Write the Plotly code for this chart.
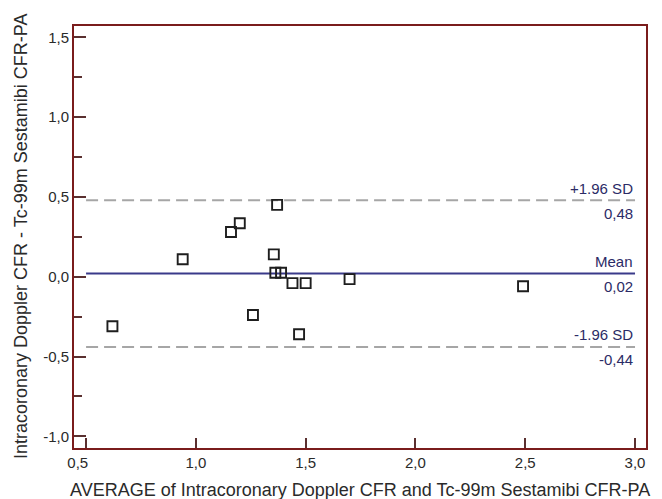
import plotly.graph_objects as go

# Data
avg_x = [0.62, 0.94, 1.16, 1.20, 1.26, 1.355, 1.362, 1.37, 1.388, 1.44, 1.47, 1.50, 1.70, 2.49]
diff_y = [-0.31, 0.11, 0.28, 0.335, -0.24, 0.14, 0.025, 0.45, 0.025, -0.04, -0.36, -0.04, -0.015, -0.06]

mean_diff = 0.02
upper_loa = 0.48
lower_loa = -0.44
line_x = [0.5, 3.0]

y_tickvals = [-1.0, -0.5, 0.0, 0.5, 1.0, 1.5]
y_ticktext = ["-1,0", "-0,5", "0,0", "0,5", "1,0", "1,5"]
x_tickvals = [0.5, 1.0, 1.5, 2.0, 2.5, 3.0]
x_ticktext = ["0,5\u2007\u2007", "1,0", "1,5", "2,0", "2,5", "3,0"]

FONT = "Liberation Sans, Arial, sans-serif"
FRAME = "#7a1c1c"
TICK = "#5a3030"
NAVY = "#3a3a8a"
LABEL = "#2b2b66"
GRAY = "#a6a6a6"
TXT = "#2a2a2a"

fig = go.Figure()

fig.add_trace(go.Scatter(x=line_x, y=[upper_loa, upper_loa], mode="lines",
                         line=dict(color=GRAY, width=2, dash="12px,6px"), hoverinfo="skip"))
fig.add_trace(go.Scatter(x=line_x, y=[lower_loa, lower_loa], mode="lines",
                         line=dict(color=GRAY, width=2, dash="12px,6px"), hoverinfo="skip"))
fig.add_trace(go.Scatter(x=line_x, y=[mean_diff, mean_diff], mode="lines",
                         line=dict(color=NAVY, width=2), hoverinfo="skip"))
fig.add_trace(go.Scatter(x=avg_x, y=diff_y, mode="markers",
                         marker=dict(symbol="square-open", size=10, color="#1e1e1e",
                                     line=dict(width=1.9, color="#1e1e1e"))))

labels = [("+1.96 SD", upper_loa, 12), ("0,48", upper_loa, -13),
          ("Mean", mean_diff, 12), ("0,02", mean_diff, -13),
          ("-1.96 SD", lower_loa, 12), ("-0,44", lower_loa, -13)]
for txt, yv, sh in labels:
    fig.add_annotation(x=3.0, y=yv, xref="x", yref="y", text=txt, showarrow=False,
                       xanchor="right", yanchor="middle", yshift=sh,
                       font=dict(family=FONT, size=15, color=LABEL))

# axis titles
fig.add_annotation(x=0.5, xref="paper", y=0, yref="paper", yshift=-42,
                   text="AVERAGE of Intracoronary Doppler CFR and Tc-99m Sestamibi CFR-PA",
                   showarrow=False, xanchor="center", yanchor="middle",
                   font=dict(family=FONT, size=18, color=TXT))
fig.add_annotation(x=0, xref="paper", xshift=-53, y=0.5, yref="paper",
                   text="Intracoronary Doppler CFR - Tc-99m Sestamibi CFR-PA",
                   showarrow=False, textangle=-90, xanchor="center", yanchor="middle",
                   font=dict(family=FONT, size=18, color=TXT))

fig.update_layout(
    width=662, height=499,
    margin=dict(l=74, r=16, t=26, b=51),
    paper_bgcolor="white", plot_bgcolor="white",
    showlegend=False,
    font=dict(family=FONT, size=15, color=TXT),
)
fig.update_xaxes(
    range=[0.445, 3.05], tickvals=x_tickvals, ticktext=x_ticktext,
    ticks="inside", ticklen=10, tickwidth=1.5, tickcolor=TICK,
    showline=True, linecolor=FRAME, linewidth=2, mirror=True,
    showgrid=False, zeroline=False, automargin=False,
    tickfont=dict(family=FONT, size=15, color=TXT),
)
fig.update_yaxes(
    range=[-1.073, 1.571], tickvals=y_tickvals, ticktext=y_ticktext,
    ticks="inside", ticklen=12, tickwidth=1.5, tickcolor=TICK,
    minor=dict(tickvals=[-0.75, -0.25, 0.25, 0.75, 1.25], ticks="inside", ticklen=8,
               tickwidth=1.5, tickcolor=TICK),
    showline=True, linecolor=FRAME, linewidth=2, mirror=True,
    showgrid=False, zeroline=False, automargin=False,
    tickfont=dict(family=FONT, size=15, color=TXT),
)

fig.write_html("out.html", config={"displayModeBar": False},
               post_script="document.body.style.margin='0';document.body.style.overflow='hidden';")
